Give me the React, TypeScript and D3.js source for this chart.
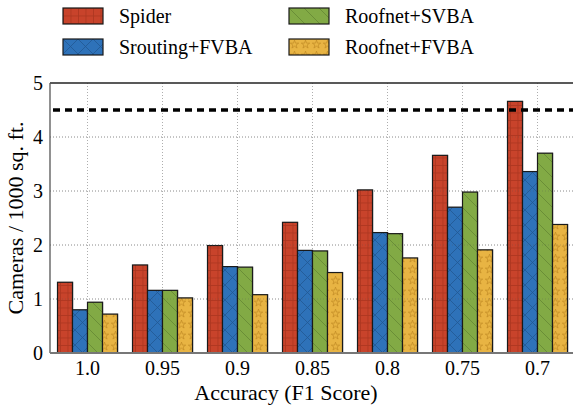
import React from "react";
import * as d3 from "d3";

const categories = ["1.0", "0.95", "0.9", "0.85", "0.8", "0.75", "0.7"];
const seriesNames = ["Spider", "Srouting+FVBA", "Roofnet+SVBA", "Roofnet+FVBA"];
const spider = [1.31, 1.63, 1.99, 2.42, 3.02, 3.66, 4.66];
const sroutingFvba = [0.8, 1.16, 1.6, 1.9, 2.23, 2.7, 3.36];
const roofnetSvba = [0.94, 1.16, 1.59, 1.89, 2.21, 2.98, 3.7];
const roofnetFvba = [0.72, 1.02, 1.08, 1.49, 1.76, 1.91, 2.38];
const yTicks = [0, 1, 2, 3, 4, 5];
const threshold = 4.5;

const seriesValues = [spider, sroutingFvba, roofnetSvba, roofnetFvba];
const colors = ["#c8432b", "#2e72b9", "#82aa45", "#e8b443"];
const patternIds = ["pat-grid", "pat-cross", "pat-diag", "pat-star"];

const WIDTH = 573;
const HEIGHT = 408;
const MARGIN = { top: 83, right: -2, bottom: 55, left: 50 };
const FONT = '"Liberation Serif"';

export default function App() {
  const x = d3
    .scaleBand()
    .domain(categories)
    .range([MARGIN.left, WIDTH - MARGIN.right])
    .paddingInner(0)
    .paddingOuter(0);
  const y = d3
    .scaleLinear()
    .domain([0, 5])
    .range([HEIGHT - MARGIN.bottom, MARGIN.top]);
  const inner = d3
    .scaleBand()
    .domain(seriesNames)
    .range([0, 60]);
  const groupOffset = (x.bandwidth() - 60) / 2;

  const star = d3.symbol(d3.symbolStar, 22)()!;

  const legendPos = [
    { x: 63, y: 8 },
    { x: 63, y: 39 },
    { x: 289, y: 8 },
    { x: 289, y: 39 },
  ];

  return (
    <svg
      width={WIDTH}
      height={HEIGHT}
      style={{ position: "absolute", left: 0, top: 0 }}
    >
      <defs>
        <pattern id="pat-grid" width={7.5} height={7.5} patternUnits="userSpaceOnUse">
          <rect width={7.5} height={7.5} fill={colors[0]} />
          <path d="M0 0.5 H7.5 M0.5 0 V7.5" stroke="#9e2f1a" strokeWidth={0.8} opacity={0.7} />
        </pattern>
        <pattern id="pat-cross" width={15} height={15} patternUnits="userSpaceOnUse">
          <rect width={15} height={15} fill={colors[1]} />
          <path d="M0 0 L15 15 M15 0 L0 15" stroke="#1d4f88" strokeWidth={0.8} opacity={0.8} />
        </pattern>
        <pattern id="pat-diag" width={15} height={15} patternUnits="userSpaceOnUse">
          <rect width={15} height={15} fill={colors[2]} />
          <path d="M0 0 L15 15 M-1 14 L1 16 M14 -1 L16 1" stroke="#5d7e2e" strokeWidth={0.8} opacity={0.8} />
        </pattern>
        <pattern id="pat-star" width={11} height={11} patternUnits="userSpaceOnUse">
          <rect width={11} height={11} fill={colors[3]} />
          <path d={star} transform="translate(5.5,5.5)" fill="none" stroke="#c08a22" strokeWidth={0.7} />
        </pattern>
      </defs>

      {/* grid */}
      <g stroke="#999" strokeDasharray="1,2" strokeWidth={0.8}>
        {yTicks.slice(1, -1).map((t) => (
          <line key={t} x1={MARGIN.left} x2={WIDTH} y1={y(t)} y2={y(t)} />
        ))}
        {categories.map((c) => (
          <line
            key={c}
            x1={x(c)! + x.bandwidth() / 2}
            x2={x(c)! + x.bandwidth() / 2}
            y1={y(5)}
            y2={y(0)}
          />
        ))}
      </g>

      {/* bars */}
      {seriesValues.map((vals, si) => (
        <g key={seriesNames[si]}>
          {categories.map((c, ci) => {
            const bx = x(c)! + groupOffset + inner(seriesNames[si])!;
            const by = y(vals[ci]);
            const bh = y(0) - by;
            return (
              <g key={c}>
                <rect x={bx + 1} y={by - 0.5} width={inner.bandwidth()} height={bh} fill="#000" opacity={0.25} />
                <rect
                  x={bx}
                  y={by}
                  width={inner.bandwidth()}
                  height={bh}
                  fill={`url(#${patternIds[si]})`}
                  stroke="#1a1a1a"
                  strokeWidth={1.2}
                />
              </g>
            );
          })}
        </g>
      ))}

      {/* grid over bars (faint) */}
      <g stroke="#555" strokeDasharray="1,2" strokeWidth={0.8} opacity={0.35}>
        {yTicks.slice(1, -1).map((t) => (
          <line key={t} x1={MARGIN.left} x2={WIDTH} y1={y(t)} y2={y(t)} />
        ))}
      </g>

      {/* threshold */}
      <line
        x1={MARGIN.left}
        x2={WIDTH}
        y1={y(threshold)}
        y2={y(threshold)}
        stroke="#000"
        strokeWidth={3.5}
        strokeDasharray="7,5"
        strokeDashoffset={-3}
      />

      {/* frame */}
      <line x1={MARGIN.left} x2={WIDTH} y1={y(5)} y2={y(5)} stroke="#222" strokeWidth={1.3} />
      <line x1={MARGIN.left} x2={MARGIN.left} y1={y(5)} y2={y(0)} stroke="#555" strokeWidth={1.3} />
      <line x1={MARGIN.left} x2={WIDTH} y1={y(0)} y2={y(0)} stroke="#777" strokeWidth={2} />

      {/* y tick labels */}
      {yTicks.map((t) => (
        <text key={t} x={MARGIN.left - 7} y={y(t) + 7} textAnchor="end" fontSize={20} fontFamily={FONT} fill="#000">
          {t}
        </text>
      ))}

      {/* x tick labels */}
      {categories.map((c) => (
        <text
          key={c}
          x={x(c)! + x.bandwidth() / 2}
          y={y(0) + 22}
          textAnchor="middle"
          fontSize={20}
          fontFamily={FONT}
          fill="#000"
        >
          {c}
        </text>
      ))}

      {/* axis titles */}
      <text x={286} y={400} textAnchor="middle" fontSize={22} fontFamily={FONT} fill="#000">
        Accuracy (F1 Score)
      </text>
      <text
        transform={`translate(23, ${(y(0) + y(5)) / 2}) rotate(-90)`}
        textAnchor="middle"
        fontSize={22}
        fontFamily={FONT}
        fill="#000"
      >
        Cameras / 1000 sq. ft.
      </text>

      {/* legend */}
      {seriesNames.map((name, i) => (
        <g key={name} transform={`translate(${legendPos[i].x}, ${legendPos[i].y})`}>
          <rect width={40} height={16} fill={`url(#${patternIds[i]})`} stroke="#1a1a1a" strokeWidth={1.2} />
          <text x={56} y={15} fontSize={20} fontFamily={FONT} fill="#000">
            {name}
          </text>
        </g>
      ))}
    </svg>
  );
}
